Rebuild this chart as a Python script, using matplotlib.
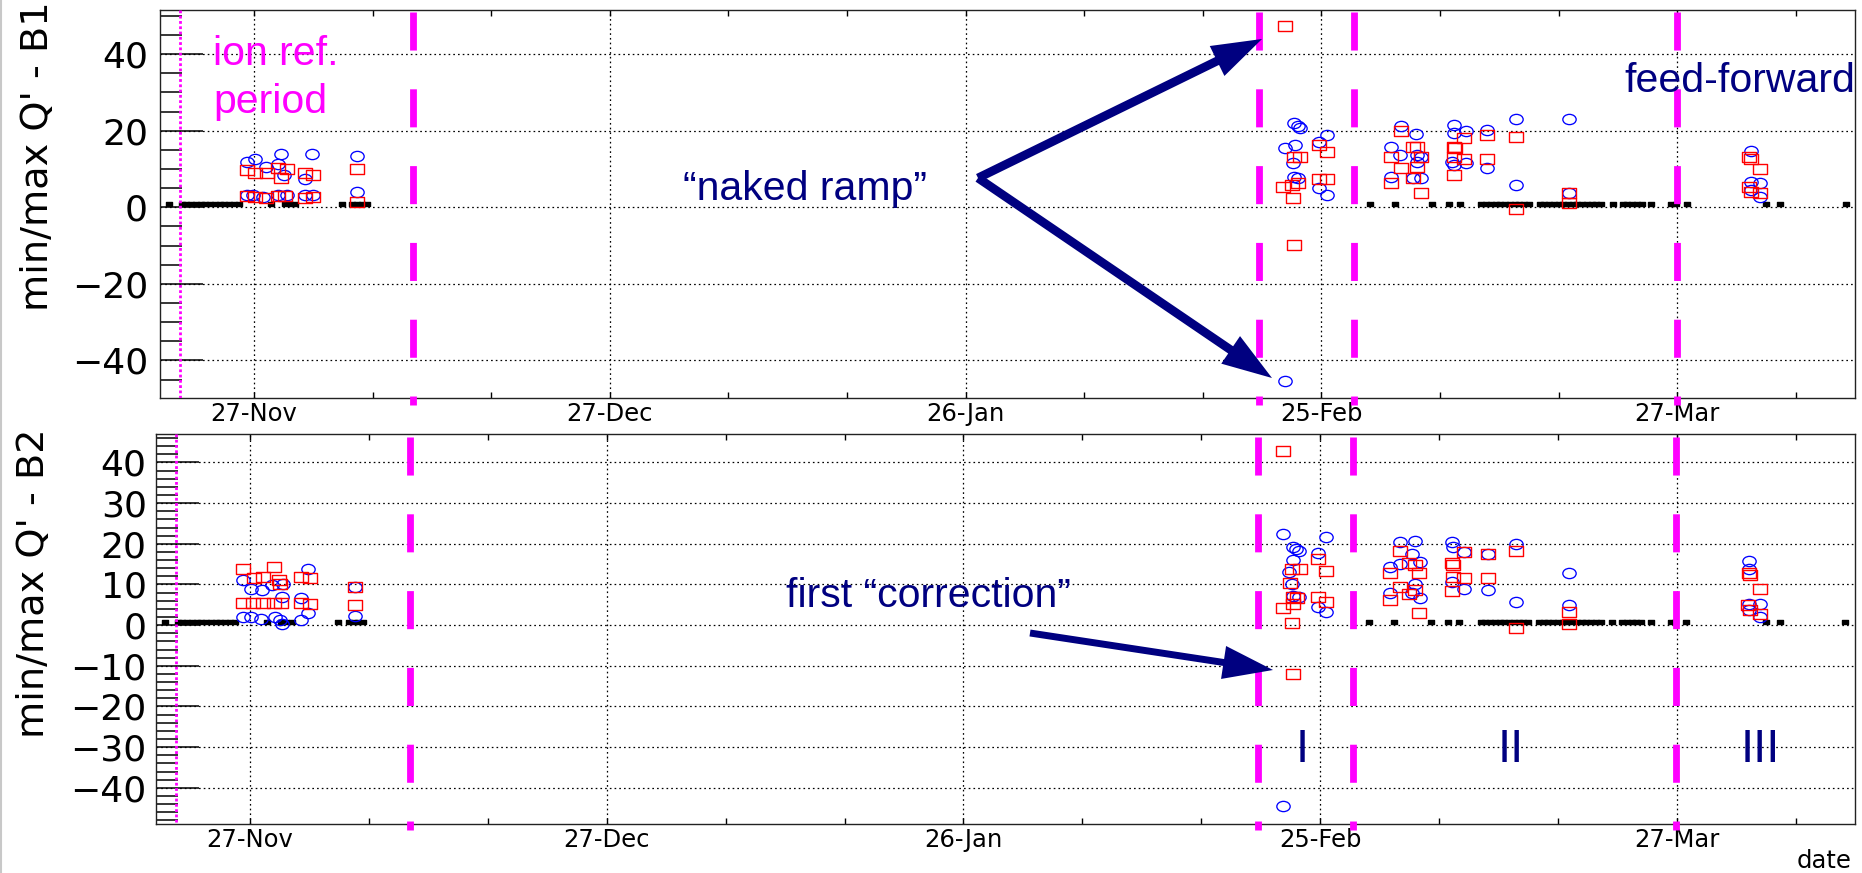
import matplotlib
matplotlib.use("Agg")
import numpy as np
import matplotlib.pyplot as plt
import matplotlib.dates as mdates
from matplotlib.path import Path
from matplotlib.patches import FancyArrowPatch, ArrowStyle
from matplotlib.lines import Line2D
from matplotlib.ticker import MultipleLocator, FixedLocator
from datetime import datetime

plt.rcParams['lines.scale_dashes'] = False
plt.rcParams['font.family'] = ['DejaVu Sans']

# ---- data: day offsets from 27-Nov-2010 and min/max Q' values ----
START = datetime(2010, 11, 27)

# fills without a measurement (plotted as small black squares near zero)
empty_days = [-7.2, -6.1, -5.7, -5.3, -4.9, -4.5, -4.1, -3.7, -3.3, -2.9, -2.5, -2.1,
              -1.7, -1.3, 1.4, 2.6, 3.0, 3.5, 7.4, 8.3, 8.7, 9.1, 9.5,
              94.1, 96.2, 99.3, 100.8, 101.7, 103.5, 103.9, 104.3, 104.7, 105.1, 105.5,
              105.9, 106.3, 106.7, 107.1, 107.5, 108.4, 108.8, 109.2, 109.6, 110.0,
              110.4, 110.8, 111.2, 111.6, 112.0, 112.4, 112.8, 113.2, 113.6, 114.6,
              115.4, 115.8, 116.2, 116.6, 117.0, 117.8, 119.5, 119.9, 120.8, 127.5,
              128.7, 134.2]
empty_level = 0.8

# Beam 1
b1_circ_days = [-0.6, 0.1, 1.0, 2.3, 2.0, 2.5, 4.9, 4.3, 8.7, 8.7,
                -0.6, -0.1, 0.8, 2.0, 2.8, 4.3, 5.0,
                86.9, 87.7, 88.0, 88.2, 86.9, 87.8, 87.6, 87.7, 88.0, 89.8, 90.5, 89.8, 90.5,
                96.7, 98.0, 95.9, 96.6, 98.1, 98.4, 95.9, 97.7, 98.4, 98.1,
                101.2, 101.2, 102.2, 101.0, 101.2, 102.2, 104.0, 104.0, 106.4, 106.4,
                110.9, 110.9, 126.2, 126.2, 127.0, 126.2, 127.0]
b1_circ_vals = [11.9, 12.5, 10.6, 14.0, 11.3, 8.3, 14.0, 7.3, 13.4, 3.9,
                3.2, 3.2, 2.7, 3.2, 3.2, 3.2, 3.2,
                -45.3, 21.9, 21.1, 20.6, 15.4, 16.3, 11.5, 8.0, 7.6, 17.1, 18.9, 5.0, 3.2,
                21.1, 19.1, 15.7, 13.7, 13.7, 13.2, 8.0, 7.6, 7.6, 11.9,
                21.5, 19.3, 19.8, 11.9, 11.1, 11.5, 20.2, 10.2, 23.0, 5.8,
                23.0, 3.8, 14.8, 6.7, 6.3, 4.5, 2.8]
b1_sq_days = [-0.6, 0.1, 1.1, 2.0, 2.8, 2.3, 4.3, 5.0, 8.7, 8.7,
              -0.6, 0.1, 1.0, 2.0, 2.6, 4.3, 5.0,
              86.9, 87.7, 87.7, 88.2, 86.8, 87.5, 88.0, 87.6, 89.8, 90.5, 89.8, 90.5,
              96.7, 95.9, 97.7, 98.1, 98.4, 96.7, 98.1, 95.9, 97.7, 98.4,
              101.2, 101.3, 102.0, 101.2, 102.0, 101.2, 104.0, 104.0, 106.4, 106.4,
              110.9, 110.9, 126.1, 126.2, 127.0, 126.1, 126.2, 127.0]
b1_sq_vals = [9.8, 9.0, 9.0, 10.2, 9.9, 7.6, 9.0, 8.3, 9.9, 1.5,
              2.9, 2.7, 2.5, 2.9, 2.9, 2.5, 2.7,
              47.2, -9.8, 13.2, 13.2, 5.2, 5.8, 6.4, 2.3, 16.3, 14.4, 7.4, 7.4,
              19.8, 13.2, 15.7, 15.7, 13.1, 10.2, 10.6, 6.4, 7.6, 3.7,
              15.7, 15.4, 18.0, 13.2, 12.5, 8.4, 18.9, 12.5, 18.4, -0.5,
              3.7, 1.0, 13.2, 12.5, 9.9, 5.4, 4.1, 3.7]

# Beam 2
b2_circ_days = [-0.6, 0.1, 1.0, 1.8, 2.8, 2.7, 4.3, 4.9, 8.8,
                -0.6, 0.1, 0.9, 2.1, 2.5, 2.7, 4.3, 4.9, 8.8,
                86.9, 86.9, 87.7, 88.0, 88.2, 87.7, 87.4, 87.6, 87.7, 88.2, 89.8, 90.5, 89.8, 90.5,
                96.7, 98.0, 95.9, 96.7, 97.7, 98.4, 98.0, 95.9, 97.7, 98.4,
                101.1, 101.2, 102.1, 101.1, 102.1, 104.1, 104.1, 106.5, 106.5, 110.9, 110.9,
                126.1, 126.1, 126.1, 127.0, 126.1, 127.0]
b2_circ_vals = [11.1, 9.0, 8.6, 9.8, 10.2, 7.0, 6.7, 13.7, 9.4,
                2.0, 2.0, 1.6, 2.0, 1.2, 0.2, 1.2, 2.9, 2.2,
                -44.5, 22.4, 19.3, 18.7, 18.3, 16.0, 13.1, 10.2, 7.2, 6.8, 17.8, 21.6, 4.5, 3.3,
                20.5, 20.7, 14.3, 15.0, 17.5, 15.6, 10.2, 8.0, 7.8, 6.6,
                20.5, 19.1, 18.0, 10.7, 8.8, 17.6, 8.6, 19.9, 5.7, 12.7, 4.9,
                15.8, 13.9, 5.3, 5.3, 3.7, 2.0]
b2_sq_days = [-0.6, 2.0, 0.3, 1.1, 2.4, 2.5, 4.3, 5.0, 8.8,
              -0.6, 0.2, 1.1, 2.0, 2.6, 4.3, 5.0, 8.8,
              86.9, 87.7, 87.6, 88.3, 87.5, 87.7, 88.1, 87.7, 86.9, 87.6, 89.8, 90.5, 89.8, 90.5,
              96.7, 95.9, 97.5, 98.0, 98.3, 96.7, 98.0, 95.9, 97.5, 98.3,
              101.1, 101.2, 102.1, 101.2, 102.1, 101.1, 104.1, 104.1, 106.5, 106.5, 110.9, 110.9,
              126.1, 126.2, 127.0, 126.0, 126.2, 127.0]
b2_sq_vals = [13.7, 14.3, 11.6, 11.9, 11.2, 10.2, 11.9, 11.5, 9.4,
              5.5, 5.4, 5.5, 5.5, 5.5, 5.4, 5.3, 4.9,
              42.9, -12.0, 13.7, 13.7, 10.4, 7.0, 6.6, 5.3, 4.1, 0.6, 16.2, 13.4, 6.8, 5.6,
              18.3, 12.9, 15.2, 14.8, 12.7, 9.3, 8.6, 6.1, 7.6, 2.9,
              15.2, 14.8, 18.0, 11.9, 11.6, 8.4, 17.6, 11.7, 18.2, -0.8, 3.3, 0.4,
              12.7, 12.3, 8.9, 4.9, 3.7, 2.7]

# period boundaries (days from 27-Nov)
ion_ref_day = -6.24
period_days = [13.43, 84.76, 92.77, 119.95]

# axis labels
label_days = [0, 30, 60, 90, 120]
minor_days = [10, 20, 40, 50, 70, 80, 100, 110, 130]

# ---- figure ----
W, H = 1862, 873
t0 = mdates.date2num(START)
NAVY = '#000080'
MAGENTA = '#ff00ff'

fig = plt.figure(figsize=(W / 100, H / 100), dpi=100)


def fpos(x, y):
    """pixel position (from top-left) -> figure fraction"""
    return x / W, 1 - y / H


circ = Path.unit_circle()
ellipse = Path(circ.vertices * [1.3, 1.0], circ.codes)
box = Path([(-0.65, -0.5), (0.65, -0.5), (0.65, 0.5), (-0.65, 0.5), (-0.65, -0.5)], closed=True)


def draw_panel(ax, circ_d, circ_v, sq_d, sq_v, ylim, major, minor, label_pad, dash_span):
    ax.set_xlim(t0 - 7.92, t0 + 135.0)
    ax.set_ylim(*ylim)

    ax.plot(t0 + np.array(empty_days), [empty_level] * len(empty_days), ls='none',
            marker=box, ms=3.8, color='black', zorder=3)
    ax.plot(t0 + np.array(circ_d), circ_v, ls='none', marker=ellipse, ms=9.6,
            mfc='none', mec='#0000ff', mew=0.95, zorder=4)
    ax.plot(t0 + np.array(sq_d), sq_v, ls='none', marker=box, ms=9.8,
            mfc='none', mec='#ff0000', mew=1.0, zorder=5)

    # ion reference marker and period boundaries
    xt = ax.get_xaxis_transform()
    ax.plot([t0 + ion_ref_day] * 2, [1, 0], transform=xt, color=MAGENTA, lw=2.0,
            ls=(0, (2.0, 1.8)), zorder=6)
    for d in period_days:
        ax.plot([t0 + d] * 2, dash_span, transform=xt, color=MAGENTA, lw=4.9,
                ls=(0, (27.4, 27.9)), dash_capstyle='butt', clip_on=False, zorder=6)

    ax.xaxis.set_major_locator(FixedLocator([t0 + d for d in label_days]))
    ax.xaxis.set_minor_locator(FixedLocator([t0 + d for d in minor_days]))
    ax.xaxis.set_major_formatter(mdates.DateFormatter('%d-%b'))
    ax.yaxis.set_major_locator(MultipleLocator(major))
    ax.yaxis.set_minor_locator(MultipleLocator(minor))

    ax.tick_params(axis='x', which='both', direction='in', length=4.3, width=1.0,
                   top=True, labelsize=17.5, pad=3)
    ax.tick_params(axis='y', which='major', direction='in', length=31, width=1.1,
                   labelsize=26, pad=label_pad)
    ax.tick_params(axis='y', which='minor', direction='in', length=15.5, width=1.1)
    ax.grid(True, which='major', color='black', ls=(0, (1.2, 2.2)), lw=0.9)
    for sp in ax.spines.values():
        sp.set_linewidth(1.0)
        sp.set_color('#222222')


ax1 = fig.add_axes([160 / W, 1 - 398 / H, 1695 / W, 388 / H])
draw_panel(ax1, b1_circ_days, b1_circ_vals, b1_sq_days, b1_sq_vals,
           (-49.8, 51.5), 20, 5, 8.6, [0.9948, -0.018])

ax2 = fig.add_axes([156 / W, 1 - 824 / H, 1699 / W, 390 / H])
draw_panel(ax2, b2_circ_days, b2_circ_vals, b2_sq_days, b2_sq_vals,
           (-48.9, 47.0), 10, 2, 6.7, [0.993, -0.0154])

# axis titles
fig.text(*fpos(38, 156), "min/max Q' - B1", rotation=90, fontsize=27.5, ha='center', va='center')
fig.text(*fpos(34, 583), "min/max Q' - B2", rotation=90, fontsize=27.5, ha='center', va='center')
fig.text(*fpos(1852, 868), "date", fontsize=17.5, ha='right', va='baseline')

# annotations
ann = dict(family=['Liberation Sans', 'DejaVu Sans'], va='baseline')
fig.text(*fpos(213, 65), "ion ref.", color=MAGENTA, fontsize=29.5, **ann)
fig.text(*fpos(213, 113), "period", color=MAGENTA, fontsize=29.5, **ann)
fig.text(*fpos(683, 200), "\u201cnaked ramp\u201d", color=NAVY, fontsize=29.5, **ann)
fig.text(*fpos(1855, 92), "feed-forward", color=NAVY, fontsize=29.5, ha='right', **ann)
fig.text(*fpos(786, 607), "first \u201ccorrection\u201d", color=NAVY, fontsize=29.5, **ann)
for x, s in [(1302, "I"), (1511, "II"), (1760, "III")]:
    fig.text(*fpos(x, 762), s, color=NAVY, fontsize=34, ha='center', **ann)


def arrow(start, tip, tail):
    style = ArrowStyle.Simple(head_length=36, head_width=24, tail_width=tail)
    fig.add_artist(FancyArrowPatch(fpos(*start), fpos(*tip), arrowstyle=style,
                                   mutation_scale=1, transform=fig.transFigure,
                                   color=NAVY, lw=0, shrinkA=0, shrinkB=0, zorder=10))


arrow((978, 178), (1262, 39), 6.3)
arrow((978, 178), (1272, 378), 6.3)
arrow((1030, 633), (1273, 670), 5.0)

# thin frame line at the left edge
fig.add_artist(Line2D([0.8 / W] * 2, [0, 1], transform=fig.transFigure, color='#c8c8c8', lw=1.5))

fig.savefig('out.png', dpi=100)
